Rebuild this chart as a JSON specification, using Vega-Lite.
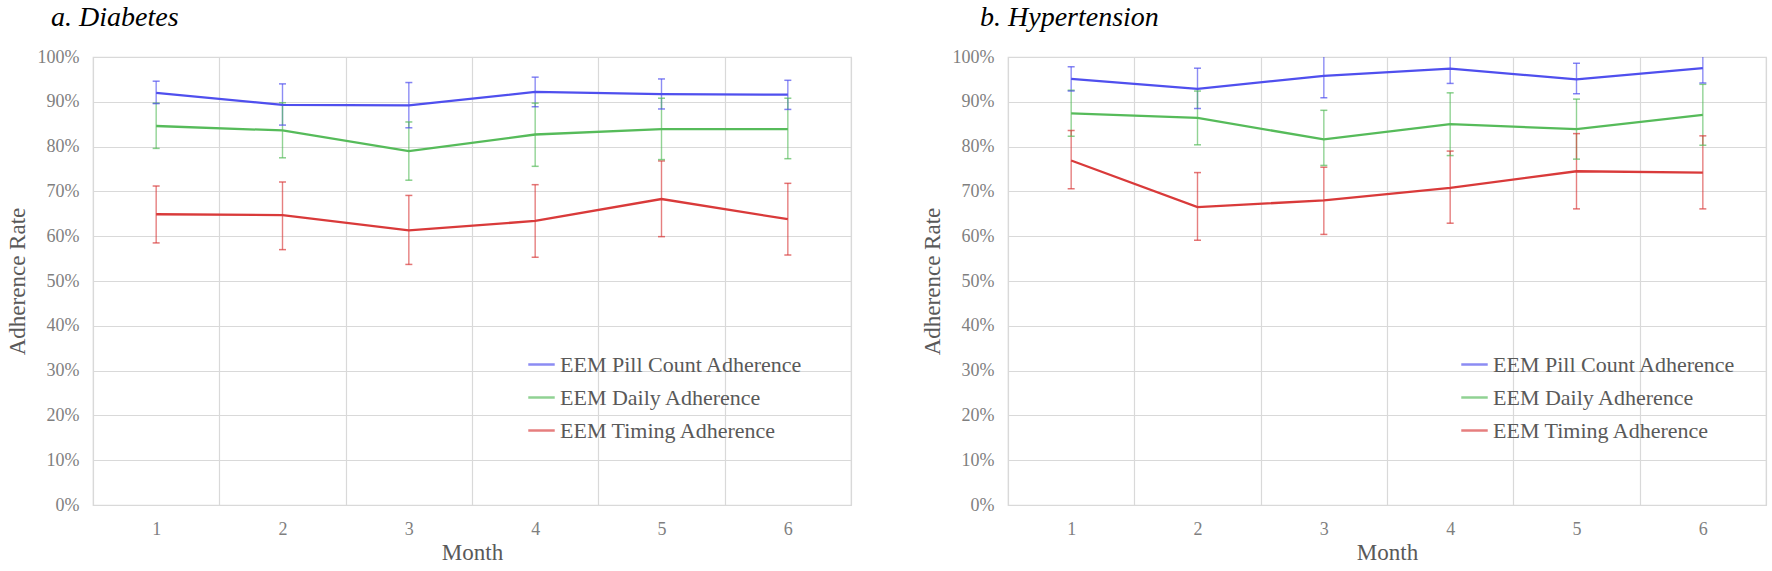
{
  "$schema": "https://vega.github.io/schema/vega-lite/v6.json",
  "background": "white",
  "padding": {"left": 5, "top": 3, "right": 5, "bottom": 3},
  "datasets": {
    "diabetes": [
      {"month": "1", "measure": "EEM Pill Count Adherence", "value": 92.0, "lo": 89.6, "hi": 94.6},
      {"month": "2", "measure": "EEM Pill Count Adherence", "value": 89.3, "lo": 84.8, "hi": 94.0},
      {"month": "3", "measure": "EEM Pill Count Adherence", "value": 89.2, "lo": 84.2, "hi": 94.3},
      {"month": "4", "measure": "EEM Pill Count Adherence", "value": 92.2, "lo": 88.9, "hi": 95.5},
      {"month": "5", "measure": "EEM Pill Count Adherence", "value": 91.7, "lo": 88.4, "hi": 95.1},
      {"month": "6", "measure": "EEM Pill Count Adherence", "value": 91.6, "lo": 88.3, "hi": 94.8},
      {"month": "1", "measure": "EEM Daily Adherence", "value": 84.6, "lo": 79.6, "hi": 89.7},
      {"month": "2", "measure": "EEM Daily Adherence", "value": 83.6, "lo": 77.5, "hi": 89.8},
      {"month": "3", "measure": "EEM Daily Adherence", "value": 79.0, "lo": 72.5, "hi": 85.5},
      {"month": "4", "measure": "EEM Daily Adherence", "value": 82.7, "lo": 75.6, "hi": 89.7},
      {"month": "5", "measure": "EEM Daily Adherence", "value": 83.9, "lo": 77.1, "hi": 90.8},
      {"month": "6", "measure": "EEM Daily Adherence", "value": 83.9, "lo": 77.3, "hi": 90.8},
      {"month": "1", "measure": "EEM Timing Adherence", "value": 64.9, "lo": 58.5, "hi": 71.2},
      {"month": "2", "measure": "EEM Timing Adherence", "value": 64.7, "lo": 57.0, "hi": 72.1},
      {"month": "3", "measure": "EEM Timing Adherence", "value": 61.3, "lo": 53.7, "hi": 69.1},
      {"month": "4", "measure": "EEM Timing Adherence", "value": 63.4, "lo": 55.3, "hi": 71.5},
      {"month": "5", "measure": "EEM Timing Adherence", "value": 68.3, "lo": 59.9, "hi": 76.8},
      {"month": "6", "measure": "EEM Timing Adherence", "value": 63.8, "lo": 55.8, "hi": 71.8}
    ],
    "hypertension": [
      {"month": "1", "measure": "EEM Pill Count Adherence", "value": 95.1, "lo": 92.4, "hi": 97.8},
      {"month": "2", "measure": "EEM Pill Count Adherence", "value": 92.9, "lo": 88.5, "hi": 97.5},
      {"month": "3", "measure": "EEM Pill Count Adherence", "value": 95.8, "lo": 90.9, "hi": 100.7},
      {"month": "4", "measure": "EEM Pill Count Adherence", "value": 97.4, "lo": 94.1, "hi": 100.7},
      {"month": "5", "measure": "EEM Pill Count Adherence", "value": 95.0, "lo": 91.8, "hi": 98.6},
      {"month": "6", "measure": "EEM Pill Count Adherence", "value": 97.5, "lo": 94.2, "hi": 100.8},
      {"month": "1", "measure": "EEM Daily Adherence", "value": 87.4, "lo": 82.3, "hi": 92.6},
      {"month": "2", "measure": "EEM Daily Adherence", "value": 86.4, "lo": 80.4, "hi": 92.4},
      {"month": "3", "measure": "EEM Daily Adherence", "value": 81.6, "lo": 75.8, "hi": 88.1},
      {"month": "4", "measure": "EEM Daily Adherence", "value": 85.0, "lo": 78.0, "hi": 92.0},
      {"month": "5", "measure": "EEM Daily Adherence", "value": 83.9, "lo": 77.2, "hi": 90.6},
      {"month": "6", "measure": "EEM Daily Adherence", "value": 87.1, "lo": 80.3, "hi": 93.9},
      {"month": "1", "measure": "EEM Timing Adherence", "value": 76.9, "lo": 70.6, "hi": 83.6},
      {"month": "2", "measure": "EEM Timing Adherence", "value": 66.5, "lo": 59.1, "hi": 74.2},
      {"month": "3", "measure": "EEM Timing Adherence", "value": 68.0, "lo": 60.4, "hi": 75.4},
      {"month": "4", "measure": "EEM Timing Adherence", "value": 70.8, "lo": 62.9, "hi": 79.0},
      {"month": "5", "measure": "EEM Timing Adherence", "value": 74.5, "lo": 66.1, "hi": 82.9},
      {"month": "6", "measure": "EEM Timing Adherence", "value": 74.2, "lo": 66.1, "hi": 82.4}
    ]
  },
  "config": {
    "font": "Liberation Serif",
    "view": {"stroke": "#d9d9d9", "strokeWidth": 1.2},
    "axis": {
      "labelFont": "Liberation Serif",
      "titleFont": "Liberation Serif",
      "labelColor": "#7f7f7f",
      "titleColor": "#595959",
      "labelFontSize": 18,
      "titleFontSize": 23,
      "titleFontWeight": "normal",
      "gridColor": "#d9d9d9",
      "gridWidth": 1.2,
      "domainColor": "#d9d9d9",
      "domainWidth": 1.2,
      "ticks": false
    },
    "legend": {
      "labelFont": "Liberation Serif",
      "labelFontSize": 22,
      "labelColor": "#595959",
      "labelLimit": 0,
      "symbolType": "stroke",
      "symbolSize": 700,
      "symbolStrokeWidth": 2.5,
      "labelOffset": 4,
      "rowPadding": 7,
      "padding": 0
    },
    "title": {
      "font": "Liberation Serif",
      "fontSize": 28,
      "fontStyle": "italic",
      "fontWeight": "normal",
      "color": "#000000",
      "anchor": "start",
      "frame": "group",
      "offset": 16
    },
    "concat": {"spacing": 68}
  },
  "resolve": {"legend": {"color": "independent"}},
  "hconcat": [
    {
      "title": {"text": "a. Diabetes", "dx": -42},
      "width": 758,
      "height": 448,
      "data": {"name": "diabetes"},
      "encoding": {
        "x": {
          "field": "month", "type": "ordinal", "bandPosition": 0.5,
          "scale": {"type": "band", "paddingInner": 0, "paddingOuter": 0},
          "axis": {"title": "Month", "labelAngle": 0, "tickBand": "extent", "grid": true, "labelPadding": 15, "titlePadding": 3}
        },
        "color": {
          "field": "measure", "type": "nominal",
          "scale": {"domain": ["EEM Pill Count Adherence", "EEM Daily Adherence", "EEM Timing Adherence"], "range": ["#4f4fee", "#56bb5a", "#d93a3a"]},
          "legend": {"title": null, "orient": "none", "legendX": 434, "legendY": 293}
        }
      },
      "layer": [
        {
          "mark": {"type": "rule", "strokeWidth": 1.4, "opacity": 0.65, "clip": true},
          "encoding": {
            "y": {"field": "lo", "type": "quantitative"},
            "y2": {"field": "hi"}
          }
        },
        {
          "mark": {"type": "tick", "size": 7, "thickness": 1.5, "opacity": 0.7, "clip": true},
          "encoding": {"y": {"field": "hi", "type": "quantitative"}}
        },
        {
          "mark": {"type": "tick", "size": 7, "thickness": 1.5, "opacity": 0.7, "clip": true},
          "encoding": {"y": {"field": "lo", "type": "quantitative"}}
        },
        {
          "mark": {"type": "line", "strokeWidth": 2.3},
          "encoding": {
            "y": {
              "field": "value", "type": "quantitative",
              "scale": {"domain": [0, 100], "nice": false},
              "axis": {"title": "Adherence Rate", "values": [0, 10, 20, 30, 40, 50, 60, 70, 80, 90, 100], "labelExpr": "datum.value + '%'", "labelPadding": 14, "titlePadding": 8, "grid": true, "domain": false}
            }
          }
        }
      ]
    },
    {
      "title": {"text": "b. Hypertension", "dx": -28},
      "width": 758,
      "height": 448,
      "data": {"name": "hypertension"},
      "encoding": {
        "x": {
          "field": "month", "type": "ordinal", "bandPosition": 0.5,
          "scale": {"type": "band", "paddingInner": 0, "paddingOuter": 0},
          "axis": {"title": "Month", "labelAngle": 0, "tickBand": "extent", "grid": true, "labelPadding": 15, "titlePadding": 3}
        },
        "color": {
          "field": "measure", "type": "nominal",
          "scale": {"domain": ["EEM Pill Count Adherence", "EEM Daily Adherence", "EEM Timing Adherence"], "range": ["#4f4fee", "#56bb5a", "#d93a3a"]},
          "legend": {"title": null, "orient": "none", "legendX": 452, "legendY": 293}
        }
      },
      "layer": [
        {
          "mark": {"type": "rule", "strokeWidth": 1.4, "opacity": 0.65, "clip": true},
          "encoding": {
            "y": {"field": "lo", "type": "quantitative"},
            "y2": {"field": "hi"}
          }
        },
        {
          "mark": {"type": "tick", "size": 7, "thickness": 1.5, "opacity": 0.7, "clip": true},
          "encoding": {"y": {"field": "hi", "type": "quantitative"}}
        },
        {
          "mark": {"type": "tick", "size": 7, "thickness": 1.5, "opacity": 0.7, "clip": true},
          "encoding": {"y": {"field": "lo", "type": "quantitative"}}
        },
        {
          "mark": {"type": "line", "strokeWidth": 2.3},
          "encoding": {
            "y": {
              "field": "value", "type": "quantitative",
              "scale": {"domain": [0, 100], "nice": false},
              "axis": {"title": "Adherence Rate", "values": [0, 10, 20, 30, 40, 50, 60, 70, 80, 90, 100], "labelExpr": "datum.value + '%'", "labelPadding": 14, "titlePadding": 8, "grid": true, "domain": false}
            }
          }
        }
      ]
    }
  ]
}
